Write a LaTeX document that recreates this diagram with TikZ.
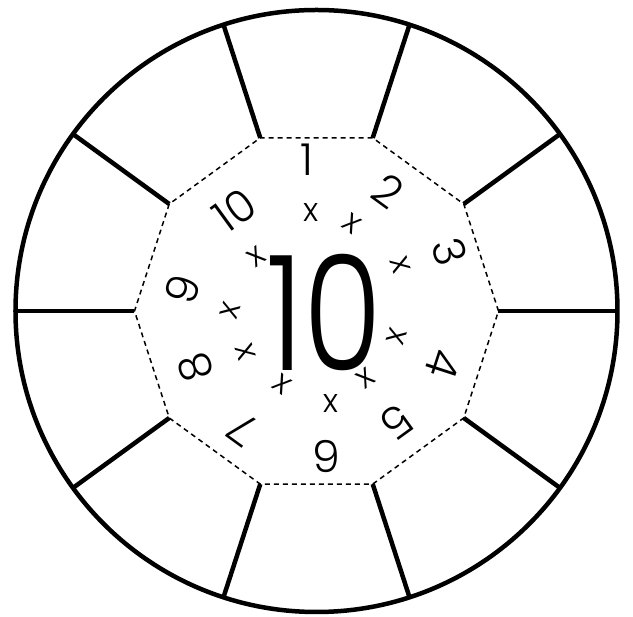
\documentclass[tikz,border=0pt]{standalone}
\usepackage{fontspec}
\setmainfont{Poppins}[UprightFont={* Light}]
\usetikzlibrary{calc}

\begin{document}
\begin{tikzpicture}[x=1pt,y=1pt,
  rim/.style={line width=4.5pt},
  ring/.style={line width=1.5pt,dash pattern=on 5pt off 4pt},
  digit/.style={font=\fontsize{44}{44}\selectfont,inner sep=0pt},
  times/.style={font=\fontsize{33}{33}\selectfont,inner sep=0pt},
  big/.style={font=\fontsize{160}{160}\selectfont,inner sep=0pt}]
\useasboundingbox (-316.5,-306) rectangle (316.5,311);

\coordinate (O) at (0,0);
\draw[rim] (O) circle (301);

% Inner decagon and the spokes from its corners.
\foreach \i in {0,...,9}{
  \coordinate (V\i) at ($(O)+(\i*36:182)$);
  \coordinate (W\i) at ($(O)+(\i*36:301)$);
}
\draw[ring] (V0) \foreach \i in {1,...,9}{ -- (V\i)} -- cycle;
\foreach \i in {0,...,9}{ \draw[rim] (V\i) -- (W\i); }

% Factors round the ring.
\foreach \n/\a/\r in {1/93.6/152,2/59/140,3/24/146,4/-22.7/137,5/-54/137,
  6/-86/146,7/-122/139,8/-155/134,9/171/136,10/129/130}{
  \node[digit,rotate=-36*(\n-1)] (N\n) at (\a:\r) {\n};
}
\foreach \k/\a/\r in {1/93/99,2/68/94,3/29/96,4/-18/84,5/-54/83,
  6/-81/94,7/-115/81,8/-150/82,9/180/86,10/138/81}{
  \node[times,rotate=-36*(\k-1)] (X\k) at (\a:\r) {x};
}

\node[big] (T) at (8,-2) {\scalebox{0.8}[1]{10}};

\end{tikzpicture}
\end{document}
